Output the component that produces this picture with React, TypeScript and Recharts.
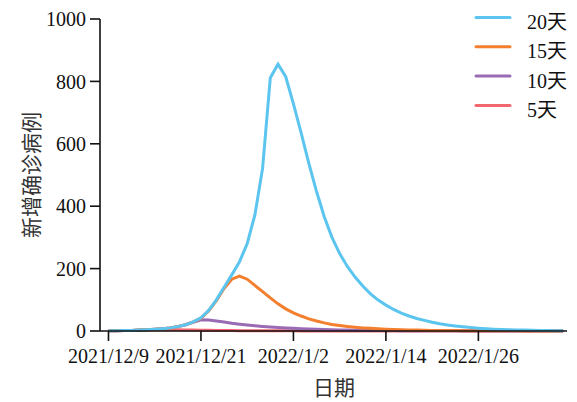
import React from "react";
import { LineChart, Line, XAxis, YAxis } from "recharts";

// days since 2021/12/9
const tickDays = [0, 12, 24, 36, 48];
const tickLabels = ["2021/12/9", "2021/12/21", "2022/1/2", "2022/1/14", "2022/1/26"];
const yTicks = [0, 200, 400, 600, 800, 1000];

const series20 = [
  0.5, 1, 1.5, 2, 3, 4, 5.5, 7.5, 10, 14,
  20, 29, 42, 66, 100, 140, 180, 222, 280, 372,
  522, 812, 855, 815, 728, 635, 537, 447, 366, 300,
  248, 207, 173, 144, 119, 99, 83, 69, 57, 48,
  40, 34, 28, 23, 19, 16, 13.5, 11, 9, 7.5,
  6, 5, 4, 3.5, 3, 2.5, 2, 1.5, 1.2, 1,
];
const series15 = [
  0.5, 1, 1.5, 2, 3, 4, 5.5, 7.5, 10, 14,
  20, 29, 41, 64, 97, 136, 166, 176, 166, 146,
  126, 106, 87, 71, 58, 48, 39, 32, 26, 21,
  17.5, 14.5, 12, 10, 8.5, 7, 6, 5, 4, 3.5,
  3, 2.5, 2, 2, 1.5, 1.5, 1.2, 1, 1, 0.8,
  0.7, 0.6, 0.5, 0.5, 0.4, 0.4, 0.3, 0.3, 0.3, 0.2,
];
const series10 = [
  0.5, 1, 1.5, 2, 3, 4, 5.5, 7.5, 10, 14,
  20, 28, 36, 35, 32, 29, 25, 22, 19, 16.5,
  14.5, 12.5, 11, 9.5, 8.5, 7.5, 6.5, 5.5, 4.5, 4,
  3.5, 3, 2.5, 2.2, 2, 1.7, 1.5, 1.3, 1.1, 1,
  0.9, 0.8, 0.7, 0.6, 0.5, 0.5, 0.4, 0.4, 0.3, 0.3,
  0.3, 0.2, 0.2, 0.2, 0.2, 0.1, 0.1, 0.1, 0.1, 0.1,
];
const series5 = [
  0.5, 1, 1.5, 2, 2.8, 3.5, 4, 4.2, 4.2, 4,
  3.6, 3.2, 2.8, 2.4, 2, 1.7, 1.5, 1.2, 1, 0.9,
  0.8, 0.7, 0.6, 0.5, 0.5, 0.4, 0.4, 0.3, 0.3, 0.3,
  0.2, 0.2, 0.2, 0.2, 0.1, 0.1, 0.1, 0.1, 0.1, 0.1,
  0.1, 0.1, 0.1, 0.1, 0.1, 0.1, 0.1, 0.1, 0.1, 0.1,
  0.1, 0.1, 0.1, 0.1, 0.1, 0.1, 0.1, 0.1, 0.1, 0.1,
];

const names = ["20天", "15天", "10天", "5天"];
const colors = ["#5bc5ef", "#f47f2e", "#9a6bb5", "#f2666e"];

const data = series20.map((v, i) => ({
  day: i,
  s20: v,
  s15: series15[i],
  s10: series10[i],
  s5: series5[i],
}));

const serif = "Times New Roman, Liberation Serif, DejaVu Serif, serif";
const cjkSans = "Noto Sans CJK SC, sans-serif";
const tickStyle = { fontSize: 20, fill: "#111", style: { fontFamily: serif } };

export default function App() {
  return (
    <div style={{ position: "absolute", left: 0, top: 0, width: 577, height: 402, background: "#fff", fontFamily: serif }}>
      <LineChart width={577} height={402} data={data} margin={{ top: 19, right: 10, bottom: 0, left: 0 }}>
        <XAxis
          type="number"
          dataKey="day"
          domain={[-1.1, 59.5]}
          allowDataOverflow
          ticks={tickDays}
          tickFormatter={(d: number) => tickLabels[tickDays.indexOf(d)] ?? ""}
          height={71}
          tickSize={10}
          tickMargin={8}
          stroke="#111"
          strokeWidth={1.6}
          tick={tickStyle}
          interval={0}
        />
        <YAxis
          type="number"
          domain={[0, 1000]}
          ticks={yTicks}
          width={100}
          tickSize={10}
          tickMargin={4}
          stroke="#111"
          strokeWidth={1.6}
          tick={tickStyle}
          interval={0}
        />
        <Line dataKey="s5" name={names[3]} stroke={colors[3]} strokeWidth={3} dot={false} type="linear" isAnimationActive={false} />
        <Line dataKey="s10" name={names[2]} stroke={colors[2]} strokeWidth={3} dot={false} type="linear" isAnimationActive={false} />
        <Line dataKey="s15" name={names[1]} stroke={colors[1]} strokeWidth={3} dot={false} type="linear" isAnimationActive={false} />
        <Line dataKey="s20" name={names[0]} stroke={colors[0]} strokeWidth={3} dot={false} type="linear" isAnimationActive={false} />
      </LineChart>
      <svg width={577} height={402} style={{ position: "absolute", left: 0, top: 0, pointerEvents: "none" }}>
        <text
          x={30}
          y={175}
          transform="rotate(-90 30 175)"
          textAnchor="middle"
          dominantBaseline="central"
          style={{ fontFamily: cjkSans }}
          fontSize={21}
          fill="#333"
        >
          新增确诊病例
        </text>
        <text x={334} y={395} textAnchor="middle" style={{ fontFamily: cjkSans }} fontSize={21} fill="#333">
          日期
        </text>
        {names.map((n, i) => (
          <g key={n}>
            <line x1={476} x2={510} y1={17.5 + i * 29.3} y2={17.5 + i * 29.3} stroke={colors[i]} strokeWidth={3} strokeLinecap="round" />
            <text x={527} y={29 + i * 29.3} style={{ fontFamily: serif + ", Noto Sans CJK SC" }} fontSize={20} fill="#111">
              {n}
            </text>
          </g>
        ))}
      </svg>
    </div>
  );
}
